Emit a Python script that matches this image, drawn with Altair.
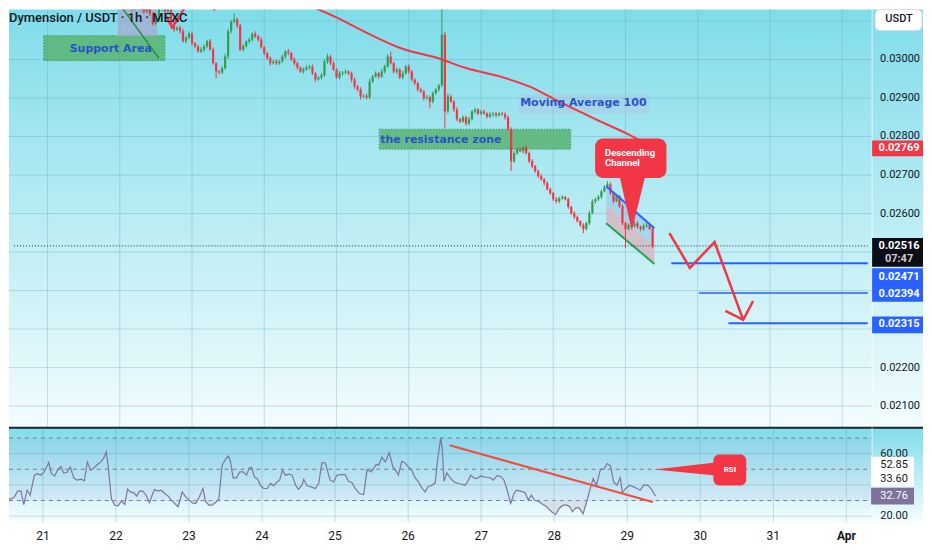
import altair as alt
import pandas as pd

# ---------------- data ----------------
# time axis: hours after 21 Mar 00:00, one candle per hour
FIRST_CANDLE_HOUR = 23
FIRST_OPEN = 3150          # prices below are in units of 0.00001 USDT
CLOSES = [
    3142, 3137, 3145, 3135, 3140, 3130, 3137, 3142, 3132, 3124,
    3135, 3119, 3093, 3104, 3130, 3135, 3124, 3130, 3093, 3078,
    3083, 3073, 3047, 3057, 3067, 3042, 3034, 3021, 3026, 3034,
    3047, 3026, 2990, 2969, 2966, 2977, 3008, 3073, 3098, 3104,
    3088, 3026, 3034, 3047, 3052, 3067, 3060, 3052, 3031, 3016,
    3003, 2990, 2995, 2990, 2995, 3008, 3021, 3016, 3000, 2990,
    2979, 2969, 2974, 2979, 2982, 2964, 2948, 2953, 2959, 2995,
    3008, 2990, 2974, 2953, 2964, 2966, 2969, 2964, 2948, 2930,
    2922, 2904, 2906, 2902, 2943, 2956, 2964, 2956, 2969, 2982,
    3008, 2990, 2969, 2974, 2953, 2964, 2982, 2969, 2948, 2938,
    2922, 2917, 2899, 2902, 2891, 2912, 2922, 2933, 3065, 2865,
    2904, 2891, 2870, 2845, 2839, 2850, 2834, 2845, 2865, 2870,
    2860, 2865, 2860, 2852, 2858, 2860, 2855, 2860, 2858, 2850,
    2819, 2736, 2757, 2767, 2762, 2772, 2757, 2736, 2723, 2710,
    2697, 2689, 2679, 2663, 2653, 2637, 2632, 2640, 2643, 2637,
    2617, 2601, 2591, 2580, 2570, 2560, 2575, 2601, 2632, 2637,
    2643, 2658, 2668, 2676, 2653, 2632, 2645, 2619, 2575, 2560,
    2570, 2567, 2575, 2565, 2560, 2567, 2570, 2560, 2516,
]
UP_WICKS = [
    5, 4, 6, 3, 5, 4, 6, 3, 5, 4,
    6, 4, 5, 7, 4, 3, 6, 5, 4, 6,
    3, 5, 7, 4, 6, 5, 3, 4, 6, 5,
    4, 6, 5, 3, 4, 5, 7, 6, 4, 15,
    5, 4, 6, 3, 5, 4, 6, 3, 5, 4,
    3, 5, 4, 6, 4, 5, 3, 6, 4, 5,
    4, 3, 5, 6, 4, 5, 3, 4, 6, 5,
    7, 4, 5, 3, 6, 4, 5, 3, 4, 5,
    4, 6, 3, 5, 7, 4, 5, 3, 6, 4,
    6, 13, 4, 5, 3, 6, 4, 5, 4, 3,
    4, 5, 3, 6, 4, 5, 3, 4, 90, 6,
    8, 5, 4, 6, 3, 5, 4, 6, 4, 5,
    3, 4, 5, 3, 6, 4, 5, 3, 4, 5,
    4, 5, 6, 4, 5, 3, 6, 4, 5, 3,
    4, 5, 3, 4, 5, 3, 6, 4, 5, 3,
    4, 3, 5, 4, 3, 5, 4, 6, 5, 4,
    5, 4, 6, 8, 5, 4, 6, 3, 5, 4,
    5, 4, 6, 5, 4, 7, 5, 4, 5,
]
DOWN_WICKS = [
    4, 5, 3, 6, 4, 5, 3, 6, 4, 5,
    3, 6, 5, 4, 6, 5, 4, 3, 5, 6,
    4, 6, 3, 5, 4, 6, 5, 3, 4, 6,
    5, 3, 4, 18, 5, 4, 3, 6, 5, 4,
    6, 4, 5, 3, 6, 5, 4, 6, 3, 5,
    4, 6, 3, 5, 4, 3, 6, 5, 4, 6,
    5, 4, 6, 3, 5, 4, 6, 3, 5, 4,
    6, 5, 4, 3, 5, 6, 4, 5, 7, 6,
    5, 8, 4, 6, 5, 4, 3, 6, 4, 5,
    4, 3, 5, 6, 4, 5, 3, 6, 5, 4,
    5, 4, 6, 3, 18, 5, 4, 6, 5, 44,
    5, 4, 6, 5, 4, 3, 6, 5, 4, 6,
    5, 4, 3, 5, 4, 6, 5, 3, 4, 6,
    5, 26, 4, 5, 3, 6, 4, 5, 6, 4,
    5, 4, 6, 3, 5, 4, 6, 5, 4, 3,
    5, 4, 6, 3, 5, 11, 4, 5, 3, 6,
    4, 5, 3, 4, 5, 6, 3, 4, 5, 50,
    4, 5, 3, 4, 6, 5, 4, 3, 6,
]

MA_HOURS = [84.0, 95.4, 106.6, 117.4, 129.8, 139.3, 150.2, 160.0, 169.8, 182.0, 192.8, 201.6]
MA_VALUES = [0.03150, 0.03111, 0.03067, 0.03029, 0.03003, 0.02977, 0.02956, 0.02930,
             0.02891, 0.02845, 0.02806, 0.02769]

RSI_HOURS = [
    -13.8, -12.7, -11.6, -10.5, -9.4, -8.3, -7.2, -6.3, -5.2, -4.2,
    -2.8, -1.7, -0.7, 0.4, 1.9, 2.8, 3.9, 4.8, 5.9, 6.8,
    7.9, 9.0, 10.1, 11.2, 12.5, 13.6, 14.6, 15.7, 16.8, 17.9,
    19.0, 19.9, 20.8, 21.4, 22.5, 23.6, 24.7, 25.8, 26.9, 27.8,
    28.8, 29.9, 30.8, 31.7, 32.8, 33.9, 35.0, 36.1, 36.7, 37.8,
    38.9, 40.0, 41.1, 42.2, 43.3, 44.4, 45.8, 46.9, 48.0, 49.1,
    50.2, 51.3, 52.6, 53.4, 54.5, 55.6, 56.7, 57.8, 58.9, 60.0,
    60.9, 61.6, 62.5, 63.6, 64.7, 65.8, 66.9, 67.8, 68.6, 69.5,
    70.6, 71.5, 72.6, 73.7, 74.8, 75.8, 76.9, 77.8, 78.7, 79.7,
    80.8, 81.9, 83.0, 84.0, 85.1, 85.7, 86.8, 88.1, 89.5, 90.6,
    91.7, 92.8, 93.9, 94.4, 95.5, 96.6, 97.7, 99.3, 100.4, 101.5,
    102.6, 104.0, 105.4, 106.5, 107.8, 108.6, 109.5, 110.3, 111.4, 112.5,
    113.8, 115.0, 116.1, 116.8, 117.9, 119.0, 120.1, 121.2, 122.3, 123.4,
    124.5, 125.6, 126.5, 127.8, 128.9, 129.6, 130.3, 130.7, 131.2, 131.8,
    132.7, 133.8, 135.1, 136.5, 137.6, 138.7, 139.5, 140.6, 141.6, 142.7,
    143.8, 144.9, 146.0, 147.1, 148.0, 149.1, 150.4, 151.5, 152.4, 153.7,
    154.8, 155.6, 156.9, 158.4, 159.5, 160.5, 161.6, 162.7, 163.8, 165.5,
    167.1, 168.5, 169.6, 170.9, 172.2, 173.1, 174.0, 175.1, 176.2, 177.5,
    178.8, 179.7, 180.8, 181.9, 183.2, 184.3, 185.4, 186.5, 187.5, 188.6,
    189.7, 190.4, 191.5, 192.8, 194.1, 195.2, 196.3, 197.4, 198.8, 200.2,
    201.3,
]
RSI_VALUES = [
    33.4, 33.0, 31.3, 30.9, 32.3, 36.0, 36.2, 27.4, 36.6, 33.4,
    46.2, 47.2, 46.2, 48.3, 54.3, 47.2, 45.7, 49.4, 51.9, 47.7,
    47.9, 51.5, 44.5, 43.0, 43.6, 42.6, 54.7, 49.4, 50.9, 53.0,
    54.7, 56.8, 61.1, 52.6, 30.9, 27.0, 26.6, 29.6, 27.4, 37.2,
    35.5, 34.9, 32.8, 36.0, 36.0, 33.4, 28.7, 34.5, 37.0, 36.0,
    36.6, 34.5, 33.0, 30.2, 28.1, 26.0, 35.5, 32.3, 30.6, 28.5,
    28.1, 31.9, 37.7, 29.6, 27.0, 27.0, 28.7, 30.9, 52.6, 56.4,
    58.5, 55.1, 44.5, 44.5, 48.3, 48.3, 46.2, 50.9, 51.1, 45.1,
    43.6, 39.4, 37.7, 37.7, 40.9, 39.4, 41.9, 43.0, 49.4, 46.2,
    46.8, 46.2, 39.8, 37.2, 39.8, 43.6, 39.4, 38.7, 37.7, 40.9,
    54.3, 54.0, 46.2, 43.0, 41.9, 46.2, 46.6, 46.6, 42.3, 41.5,
    37.7, 34.5, 33.8, 49.8, 48.3, 50.0, 53.0, 52.6, 57.7, 54.7,
    60.6, 51.5, 48.7, 46.2, 55.1, 54.0, 51.5, 49.4, 44.5, 41.9,
    38.1, 35.5, 38.7, 39.8, 41.3, 54.7, 64.3, 70.0, 63.2, 42.3,
    47.7, 44.5, 41.9, 40.9, 40.4, 39.8, 41.9, 46.2, 44.5, 44.0,
    45.7, 45.1, 44.7, 44.5, 43.0, 45.7, 45.5, 43.0, 37.7, 28.1,
    34.5, 36.6, 36.0, 35.1, 30.2, 33.4, 30.2, 29.6, 28.1, 26.0,
    22.8, 21.1, 24.9, 27.0, 27.0, 26.0, 22.8, 25.3, 25.3, 21.5,
    30.2, 36.6, 44.0, 39.8, 50.0, 50.0, 53.6, 52.1, 41.9, 39.8,
    44.5, 35.1, 37.7, 39.8, 38.7, 37.7, 36.6, 39.8, 39.8, 36.6,
    32.76,
]

DAY_HOURS = [0, 24, 48, 72, 96, 120, 144, 168, 192, 216, 240]
DAY_LABELS = ["21", "22", "23", "24", "25", "26", "27", "28", "29", "30", "31"]
MONTH_HOUR = [264]
MONTH_LABEL = ["Apr"]
PRICE_GRID = [0.021, 0.022, 0.023, 0.024, 0.025, 0.026, 0.027, 0.028, 0.029, 0.030, 0.031]
PRICE_LABELS = [0.021, 0.022, 0.026, 0.027, 0.028, 0.029, 0.030]   # the others are covered by tags
RSI_GRID = [60, 40, 20]
RSI_GRID_LABELS = [60, 20]
RSI_LEVELS = [70, 50, 30]

LAST_PRICE = 0.02516
COUNTDOWN = "07:47"
MA_LAST = 0.02769
TARGETS = [0.02471, 0.02394, 0.02315]
TARGET_FROM_HOURS = [207.2, 216.4, 226.2]
RSI_LAST = 32.76
RSI_MA_LAST = 52.85
RSI_OTHER = 33.60

# drawings (hour, price)
SUPPORT_BOX = dict(h1=-1.3, h2=39.0, p1=0.03062, p2=0.02997)
GRAY_BOX = dict(h1=23.3, h2=36.4, p1=0.03150, p2=0.03060)
GREEN_DIAG = dict(h=[23.3, 37.0], p=[0.03150, 0.03003])
RESIST_BOX = dict(h1=110.2, h2=173.8, p1=0.02819, p2=0.02767)
MA_TAG_BOX = dict(h1=156.7, h2=200.0, p1=0.02909, p2=0.02860)
CHANNEL_H = [185.6, 201.6]
CHANNEL_TOP = [0.02671, 0.02562]
CHANNEL_MID = [0.02622, 0.02516]
CHANNEL_BOT = [0.02575, 0.02469]
TOP_ARROW_H = [46.9, 41.3, 39.3, 41.3, 43.9, 53.1, 55.4, 58.0]
TOP_ARROW_P = [0.03150, 0.03083, 0.03114, 0.03083, 0.03109, 0.03150, 0.03130, 0.03150]
TOP_ARROW_G = ["a", "a", "b", "b", "b", "c", "c", "c"]
ZIG_H = [206.6, 213.4, 221.6, 231.1, 225.2, 231.1, 234.4]
ZIG_P = [0.02549, 0.02459, 0.02526, 0.02324, 0.02347, 0.02324, 0.02373]
ZIG_G = ["shaft", "shaft", "shaft", "shaft", "head", "head", "head"]
CALLOUT_BOX = dict(h1=181.9, h2=205.6, p1=0.02795, p2=0.02692)
CALLOUT_TIP_H = [190.2, 194.1, 198.4]
CALLOUT_TIP_LO = [0.02692, 0.02555, 0.02692]
CALLOUT_TIP_HI = [0.02692, 0.02692, 0.02692]
RSI_LINE_H = [133.6, 200.4]
RSI_LINE_V = [65.3, 29.1]
RSI_BOX = dict(h1=220.3, h2=231.1, r1=59.35, r2=39.6)
RSI_TIP_H = [201.0, 221.0]
RSI_TIP_LO = [49.8, 45.96]
RSI_TIP_HI = [49.8, 54.25]

# ---------------- styling ----------------
# the page keeps an 8px margin on every side, so the drawing is 916 px wide
W, H_MAIN, H_RSI = 916, 419, 95
XDOM = [-11.148, 289.18]
PDOM = [0.0204404, 0.0312953]
RDOM = [15.98, 76.57]
AXIS_X = 865
GREEN = "#379b4e"
RED = "#f23645"
BLUE = "#2962ff"
TXT_BLUE = "#2654c9"
INK = "#131722"
GRID = "#5c9fb5"

def X(f="h"):
    return alt.X(f"{f}:Q", scale=alt.Scale(domain=XDOM), axis=None)

def Y(f="p"):
    return alt.Y(f"{f}:Q", scale=alt.Scale(domain=PDOM), axis=None)

def YR(f="r"):
    return alt.Y(f"{f}:Q", scale=alt.Scale(domain=RDOM), axis=None)

def grad(top, bottom):
    return alt.LinearGradient(gradient="linear", x1=0, x2=0, y1=0, y2=1,
                              stops=[alt.GradientStop(color=top, offset=0),
                                     alt.GradientStop(color=bottom, offset=1)])

def box_shape(top, bottom):
    return f"M-1,{top}L1,{top}L1,{bottom}L-1,{bottom}Z"

ONE = pd.DataFrame({"a": [0]})

# ---------------- tables ----------------
opens = [FIRST_OPEN] + CLOSES[:-1]
rows = []
for i, (o, c, u, d) in enumerate(zip(opens, CLOSES, UP_WICKS, DOWN_WICKS)):
    rows.append(dict(h=FIRST_CANDLE_HOUR + i, open=o / 1e5, close=c / 1e5,
                     high=(max(o, c) + u) / 1e5, low=(min(o, c) - d) / 1e5,
                     dir="up" if c >= o else "down"))
candles = pd.DataFrame(rows)
ma = pd.DataFrame({"h": MA_HOURS, "p": MA_VALUES})
rsi = pd.DataFrame({"h": RSI_HOURS, "r": RSI_VALUES})
rsi["lo"] = rsi["r"].clip(upper=30)
rsi["hi"] = 30.0
days = pd.DataFrame({"h": DAY_HOURS + MONTH_HOUR, "label": DAY_LABELS + MONTH_LABEL})
pgrid = pd.DataFrame({"p": PRICE_GRID})
plabels = pd.DataFrame({"p": PRICE_LABELS, "label": [f"{p:.5f}" for p in PRICE_LABELS]})

def rect_df(b):
    return pd.DataFrame({k: [v] for k, v in b.items()})

color_enc = alt.Color("dir:N", scale=alt.Scale(domain=["up", "down"], range=[GREEN, RED]), legend=None)

# ---------------- main panel ----------------
bg = alt.Chart(ONE).mark_rect(fill=grad("#80dcea", "#f3fcfd")).encode(
    x=alt.value(0), x2=alt.value(W), y=alt.value(0), y2=alt.value(H_MAIN))
vgrid = alt.Chart(days).mark_rule(color=GRID, opacity=0.32).encode(x=X())
hgrid = alt.Chart(pgrid).mark_rule(color=GRID, opacity=0.32, clip=True).encode(
    y=Y(), x=alt.value(0), x2=alt.value(AXIS_X))

support = alt.Chart(rect_df(SUPPORT_BOX)).mark_rect(
    fill="#55b06a", fillOpacity=0.8, stroke="#3a8f50", strokeDash=[1, 2], strokeWidth=1
).encode(x=X("h1"), x2="h2", y=Y("p1"), y2="p2")
graybox = alt.Chart(rect_df(GRAY_BOX)).mark_rect(fill="#a3abcf", opacity=0.75, clip=True).encode(
    x=X("h1"), x2="h2", y=Y("p1"), y2="p2")
resist = alt.Chart(rect_df(RESIST_BOX)).mark_rect(
    fill="#55b06a", fillOpacity=0.8, stroke="#3a8f50", strokeDash=[1, 2], strokeWidth=1
).encode(x=X("h1"), x2="h2", y=Y("p1"), y2="p2")
matag = alt.Chart(rect_df(MA_TAG_BOX)).mark_rect(fill="#b4c2e0", opacity=0.45).encode(
    x=X("h1"), x2="h2", y=Y("p1"), y2="p2")

chan = pd.DataFrame({"h": CHANNEL_H, "top": CHANNEL_TOP, "mid": CHANNEL_MID, "bot": CHANNEL_BOT})
chan_up = alt.Chart(chan).mark_area(color="#93c8ec", opacity=0.6).encode(x=X(), y=Y("top"), y2="mid")
chan_dn = alt.Chart(chan).mark_area(color="#d6b1bc", opacity=0.75).encode(x=X(), y=Y("mid"), y2="bot")

wicks = alt.Chart(candles).mark_rule(strokeWidth=1, clip=True).encode(
    x=X(), y=Y("low"), y2="high", color=color_enc)
bodies = alt.Chart(candles).mark_bar(size=2.2, clip=True).encode(
    x=X(), y=Y("open"), y2="close", color=color_enc)

ma_line = alt.Chart(ma).mark_line(color=RED, strokeWidth=2, clip=True, interpolate="monotone").encode(
    x=X(), y=Y())

diag = alt.Chart(pd.DataFrame(GREEN_DIAG)).mark_line(color="#2e8b4a", strokeWidth=1.5, clip=True).encode(
    x=X(), y=Y())
top_arrow = alt.Chart(pd.DataFrame({"h": TOP_ARROW_H, "p": TOP_ARROW_P, "g": TOP_ARROW_G,
                                    "o": list(range(len(TOP_ARROW_H)))})).mark_line(
    color=RED, strokeWidth=2.2, clip=True).encode(x=X(), y=Y(), detail="g:N", order="o:Q")

chan_top = alt.Chart(chan).mark_line(color=BLUE, strokeWidth=2).encode(x=X(), y=Y("top"))
chan_bot = alt.Chart(chan).mark_line(color="#2e9e50", strokeWidth=2).encode(x=X(), y=Y("bot"))

last_line = alt.Chart(pd.DataFrame({"h1": [XDOM[0]], "h2": [272.5], "p": [LAST_PRICE]})).mark_rule(
    color="#2a2e39", strokeDash=[1, 2], strokeWidth=1).encode(x=X("h1"), x2="h2", y=Y())
targets = alt.Chart(pd.DataFrame({"h1": TARGET_FROM_HOURS, "h2": [272.5] * 3, "p": TARGETS,
                                  "w": [2, 1.5, 2]})).mark_rule(color=BLUE).encode(
    x=X("h1"), x2="h2", y=Y(), strokeWidth=alt.StrokeWidth("w:Q", scale=None))

zig = alt.Chart(pd.DataFrame({"h": ZIG_H, "p": ZIG_P, "g": ZIG_G, "o": list(range(len(ZIG_H)))})).mark_line(
    color=RED, strokeWidth=2.5).encode(x=X(), y=Y(), detail="g:N", order="o:Q")

callout = alt.Chart(rect_df(CALLOUT_BOX)).mark_rect(fill=RED, cornerRadius=8).encode(
    x=X("h1"), x2="h2", y=Y("p1"), y2="p2")
callout_tip = alt.Chart(pd.DataFrame({"h": CALLOUT_TIP_H, "lo": CALLOUT_TIP_LO, "hi": CALLOUT_TIP_HI})).mark_area(
    color=RED, opacity=1).encode(x=X(), y=Y("lo"), y2="hi")
callout_txt = alt.Chart(pd.DataFrame({"h": [185.2, 185.2], "p": [0.02757, 0.02731],
                                      "t": ["Descending", "Channel"]})).mark_text(
    align="left", baseline="middle", color="white", font="Roboto", fontSize=9.5, fontWeight="bold"
).encode(x=X(), y=Y(), text="t:N")

def label(h, p, t, align="center"):
    return alt.Chart(pd.DataFrame({"h": [h], "p": [p], "t": [t]})).mark_text(
        align=align, baseline="middle", color=TXT_BLUE, font="DejaVu Sans", fontSize=11, fontWeight="bold"
    ).encode(x=X(), y=Y(), text="t:N")

sup_txt = label(21.0, 0.03026, "Support Area")
res_txt = label(110.5, 0.02790, "the resistance zone", "left")
ma_txt = label(178.0, 0.02886, "Moving Average 100")

title = alt.Chart(ONE).mark_text(align="left", baseline="middle", font="Roboto", fontSize=13,
                                 fontWeight=500, color=INK).encode(
    x=alt.value(0), y=alt.value(8), text=alt.value("Dymension / USDT · 1h · MEXC"))

axis_sep = alt.Chart(ONE).mark_rule(color="white", opacity=0.7).encode(x=alt.value(AXIS_X))
tick_txt = alt.Chart(plabels).mark_text(align="center", baseline="middle", font="Roboto", fontSize=11,
                                        color=INK).encode(x=alt.value(893), y=Y(), text="label:N")

def tag(p, fill, top, bottom, size=51, xc=890.5):
    return alt.Chart(pd.DataFrame({"p": [p]})).mark_point(
        shape=box_shape(top, bottom), size=size * size, filled=True, fill=fill, opacity=1, strokeWidth=0
    ).encode(x=alt.value(xc), y=Y())

def tag_text(p, t, dy=0, color="white", xc=892):
    return alt.Chart(pd.DataFrame({"p": [p], "t": [t]})).mark_text(
        align="center", baseline="middle", font="Roboto", fontSize=11, fontWeight="bold", color=color, dy=dy
    ).encode(x=alt.value(xc), y=Y(), text="t:N")

# box half-heights are given in units of half the box width (25.5 px)
tags = [
    tag(MA_LAST, RED, -0.31, 0.31), tag_text(MA_LAST, f"{MA_LAST:.5f}"),
    tag(LAST_PRICE, "#0b0e17", -0.31, 0.82), tag_text(LAST_PRICE, f"{LAST_PRICE:.5f}"),
    tag_text(LAST_PRICE, COUNTDOWN, dy=13, color="#d8c8d2"),
    tag(TARGETS[0], BLUE, 0.2, 0.86), tag_text(TARGETS[0], f"{TARGETS[0]:.5f}", dy=14),
    tag(TARGETS[1], BLUE, -0.31, 0.35), tag_text(TARGETS[1], f"{TARGETS[1]:.5f}", dy=1),
    tag(TARGETS[2], BLUE, -0.27, 0.39), tag_text(TARGETS[2], f"{TARGETS[2]:.5f}", dy=1),
]

usdt_btn = alt.Chart(ONE).mark_rect(fill="white", stroke="#d6dbe6", cornerRadius=5).encode(
    x=alt.value(868), x2=alt.value(915), y=alt.value(0), y2=alt.value(21))
usdt_txt = alt.Chart(ONE).mark_text(font="Roboto", fontSize=11, color=INK, fontWeight=500,
                                    baseline="middle").encode(
    x=alt.value(892), y=alt.value(9), text=alt.value("USDT"))

main = alt.layer(
    bg, vgrid, hgrid, support, graybox, resist, matag, chan_up, chan_dn,
    wicks, bodies, ma_line, diag, top_arrow, chan_top, chan_bot, last_line, targets, zig,
    callout, callout_tip, callout_txt, sup_txt, res_txt, ma_txt, title,
    axis_sep, tick_txt, *tags, usdt_btn, usdt_txt
).properties(width=W, height=H_MAIN)

# ---------------- RSI panel ----------------
rbg = alt.Chart(ONE).mark_rect(fill=grad("#80dcea", "#f6fdfe")).encode(
    x=alt.value(0), x2=alt.value(W), y=alt.value(0), y2=alt.value(H_RSI))
band = alt.Chart(pd.DataFrame({"hi": [70], "lo": [30]})).mark_rect(fill="#7e57c2", opacity=0.07).encode(
    x=alt.value(0), x2=alt.value(AXIS_X), y=YR("hi"), y2="lo")
rvgrid = alt.Chart(days).mark_rule(color=GRID, opacity=0.32).encode(x=X())
rhgrid = alt.Chart(pd.DataFrame({"r": RSI_GRID})).mark_rule(color=GRID, opacity=0.32).encode(
    y=YR(), x=alt.value(0), x2=alt.value(AXIS_X))
rlevels = alt.Chart(pd.DataFrame({"r": RSI_LEVELS})).mark_rule(color="#787b9a", strokeDash=[4, 4]).encode(
    y=YR(), x=alt.value(0), x2=alt.value(AXIS_X))
oversold = alt.Chart(rsi).mark_area(color="#c9c9d3", opacity=0.45, clip=True).encode(
    x=X(), y=YR("lo"), y2="hi")
rsi_line = alt.Chart(rsi).mark_line(color="#7b789f", strokeWidth=1.2, clip=True).encode(x=X(), y=YR())
rsi_trend = alt.Chart(pd.DataFrame({"h": RSI_LINE_H, "r": RSI_LINE_V})).mark_line(
    color="#ef4e3f", strokeWidth=2).encode(x=X(), y=YR())
rsi_tip = alt.Chart(pd.DataFrame({"h": RSI_TIP_H, "lo": RSI_TIP_LO, "hi": RSI_TIP_HI})).mark_area(
    color=RED, opacity=1).encode(x=X(), y=YR("lo"), y2="hi")
rsi_box = alt.Chart(rect_df(RSI_BOX)).mark_rect(fill=RED, cornerRadius=6).encode(
    x=X("h1"), x2="h2", y=YR("r1"), y2="r2")
rsi_box_txt = alt.Chart(pd.DataFrame({"h": [225.7], "r": [49.8], "t": ["RSI"]})).mark_text(
    color="white", font="Roboto", fontSize=8, fontWeight="bold", baseline="middle").encode(
    x=X(), y=YR(), text="t:N")
sep = alt.Chart(ONE).mark_rule(color="#1f2430", strokeWidth=2).encode(y=alt.value(0))
raxis_sep = alt.Chart(ONE).mark_rule(color="white", opacity=0.7).encode(x=alt.value(AXIS_X))

rtick = alt.Chart(pd.DataFrame({"r": RSI_GRID_LABELS, "t": [f"{v:.2f}" for v in RSI_GRID_LABELS]})).mark_text(
    font="Roboto", fontSize=11, color=INK, baseline="middle").encode(x=alt.value(887), y=YR(), text="t:N")

def rtag(v, fill, top, bottom):
    return alt.Chart(pd.DataFrame({"r": [v]})).mark_point(
        shape=box_shape(top, bottom), size=43 * 43, filled=True, fill=fill, opacity=1, strokeWidth=0
    ).encode(x=alt.value(885.5), y=YR())

def rtext(v, t, color, dy=0):
    return alt.Chart(pd.DataFrame({"r": [v], "t": [t]})).mark_text(
        font="Roboto", fontSize=11, color=color, baseline="middle", dy=dy).encode(
        x=alt.value(887), y=YR(), text="t:N")

rtags = [
    rtag(RSI_MA_LAST, "white", -0.38, 1.01),
    rtext(RSI_MA_LAST, f"{RSI_MA_LAST:.2f}", INK),
    rtext(RSI_OTHER, f"{RSI_OTHER:.2f}", INK, dy=-16),
    rtag(RSI_LAST, "#7d739b", -0.4, 0.39),
    rtext(RSI_LAST, f"{RSI_LAST:.2f}", "white"),
]

day_txt = alt.Chart(days[days["label"] != "Apr"]).mark_text(
    font="Roboto", fontSize=12, color=INK, baseline="middle").encode(
    x=X(), y=alt.value(109), text="label:N")
month_txt = alt.Chart(days[days["label"] == "Apr"]).mark_text(
    font="Roboto", fontSize=12, color=INK, baseline="middle", fontWeight="bold").encode(
    x=X(), y=alt.value(109), text="label:N")

rsi_panel = alt.layer(
    rbg, band, rvgrid, rhgrid, rlevels, oversold, rsi_line, rsi_trend, rsi_tip, rsi_box, rsi_box_txt,
    sep, raxis_sep, rtick, *rtags, day_txt, month_txt
).properties(width=W, height=H_RSI)

chart = alt.vconcat(main, rsi_panel, spacing=0, bounds="flush").properties(
    padding=0
).configure_view(stroke=None)

chart.save("out.html", embed_options={"renderer": "svg", "actions": False})
